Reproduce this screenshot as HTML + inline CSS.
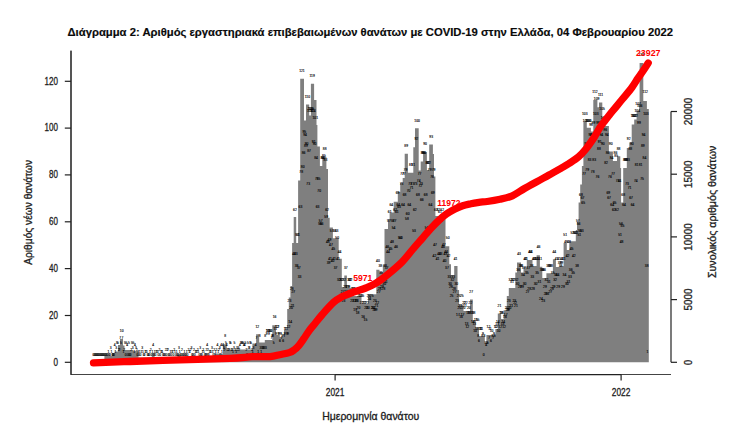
<!DOCTYPE html>
<html lang="el"><head><meta charset="utf-8"><title>Διάγραμμα 2</title>
<style>html,body{margin:0;padding:0;background:#fff}svg{display:block}text{font-family:"Liberation Sans",sans-serif}.t{font-size:3.3px;fill:#000;stroke:#000;stroke-width:.12px;text-anchor:middle}.a{font-size:10.2px;fill:#1c1c1c;stroke:#1c1c1c;stroke-width:.3px}.r{font-size:9.6px;font-weight:bold;fill:#f00;text-anchor:middle}</style></head><body>
<svg width="734" height="434" viewBox="0 0 734 434">
<rect width="734" height="434" fill="#fff"/>
<path d="M92.3 362.3V362.3H104.4V356H112V353H114.5V351.6H118V345H120V339H123V345.5H124.5V350H133V351H138.5V357.5H151.8V353H154.6V357.5H177.5V354.5H180.5V357.5H205.5V353H208.5V357H215V353.5H222.9V344.2H226.8V349.5H252.4V343.6H256.1V334.3H259.2V342.4H264.8V340H272.3V325.2H276V335H279.8V337H284V330H287.2V309H288.8V297.5H290.4V286H292.1V243.1H293.7V217H296.2V243H298.1V180.6H300.2V78.8H304V120.5H306V104.5H309.2V115.6H310.9V83.7H314.1V100H316.5V125H317.4V146.5H319.9V166H322.3V157H326.4V169H328V217.8H329.7V227.6H332.9V238.2H338.7V258.7H341.8V287H344.3V275.5H346.9V287.7H353V295.9H361.5V304H368V294.2H376.3V269.7H379.5V272H382.8V264.8H384.5V229H388V219H389.6V212.4H393.7V201.8H397.8V192H400.2V183H402.7V178.1H404.7V153.7H407.9V172.8H413.3V147.2H415V128.2H418.7V170.4H420.7V161.4H423.1V151.9H426.9V170H429.2V144.6H432.9V154H434V176.4H435.4V216H445.5V246.3H449.3V264.3H451V275H454.2V266H457.5V290H459.1V304.5H463.5V311H470V299.6H472.8V320H475.8V327.4H479V336H484.8V343H486.4V335H495.4V329H497.8V313.5H501.1V319H503.6V310.2H506.8V296H508.8V288H515.3V272.4H517V262.6H521V272.4H523.5V266.7H526.8V260.1H532.5V265.9H536.6V255.2H539.9V266.7H542.3V278H546.4V273.2H552.9V259.3H555.9V267H559.5V265.9H563.6V243H566.8V250H569.3V241.3H575.8V229.9H577V222H578.6V202.5H580.2V184.5H581.9V166H583.4V121.2H586.8V127.7H590.9V131.5H593.3V99.9H597.4V107.3H599V102.4H602.3V117H604.8V126H608.9V151.4H612.9V161H617V156.3H620.3V168H621.1V202.5H623.2V168H626.8V148H629.3V142.4H631.7V124.4H634.2V119.5H636.6V111.3H639.1V105H639.6V63H643.3V101H646.9V108.9H648.8V362.3Z" fill="#7f7f7f"/>
<g class="t">
<text x="93.5" y="355.7">0</text><text x="94.3" y="355.7">0</text><text x="95.1" y="355.7">0</text><text x="95.9" y="355.7">0</text><text x="96.6" y="355.7">0</text><text x="97.4" y="355.7">0</text><text x="98.2" y="355.7">0</text><text x="99" y="355.7">0</text><text x="99.8" y="355.7">0</text><text x="100.6" y="355.7">0</text><text x="101.3" y="355.7">0</text><text x="102.1" y="355.7">0</text><text x="102.9" y="355.7">0</text><text x="103.7" y="355.7">0</text><text x="104.5" y="355.7">0</text><text x="105.3" y="355.7">0</text><text x="106" y="355.7">0</text><text x="106.8" y="355.7">0</text><text x="107.6" y="355.7">0</text><text x="108.4" y="353.4">1</text><text x="109.2" y="355.7">0</text><text x="110" y="355.7">0</text><text x="110.7" y="348.7">3</text><text x="111.5" y="353.4">1</text><text x="112.3" y="355.7">0</text><text x="113.1" y="355.7">0</text><text x="113.9" y="355.7">0</text><text x="114.7" y="346.3">4</text><text x="115.4" y="353.4">1</text><text x="116.2" y="348.7">3</text><text x="117" y="344">5</text><text x="117.8" y="344">5</text><text x="118.6" y="351">2</text><text x="119.4" y="351">2</text><text x="120.1" y="339.3">7</text><text x="120.9" y="344">5</text><text x="121.7" y="332.3">10</text><text x="122.5" y="339.3">7</text><text x="123.3" y="353.4">1</text><text x="124.1" y="351">2</text><text x="124.8" y="344">5</text><text x="125.6" y="355.7">0</text><text x="126.4" y="344">5</text><text x="127.2" y="346.3">4</text><text x="128" y="355.7">0</text><text x="128.8" y="344">5</text><text x="129.5" y="355.7">0</text><text x="130.3" y="355.7">0</text><text x="131.1" y="351">2</text><text x="131.9" y="344">5</text><text x="132.7" y="348.7">3</text><text x="133.5" y="344">5</text><text x="134.2" y="353.4">1</text><text x="135" y="346.3">4</text><text x="135.8" y="348.7">3</text><text x="136.6" y="351">2</text><text x="137.4" y="355.7">0</text><text x="138.2" y="353.4">1</text><text x="138.9" y="355.7">0</text><text x="139.7" y="353.4">1</text><text x="140.5" y="355.7">0</text><text x="141.3" y="353.4">1</text><text x="142.1" y="348.7">3</text><text x="142.9" y="353.4">1</text><text x="143.7" y="355.7">0</text><text x="144.4" y="355.7">0</text><text x="145.2" y="353.4">1</text><text x="146" y="353.4">1</text><text x="146.8" y="353.4">1</text><text x="147.6" y="355.7">0</text><text x="148.4" y="355.7">0</text><text x="149.1" y="355.7">0</text><text x="149.9" y="353.4">1</text><text x="150.7" y="351">2</text><text x="151.5" y="355.7">0</text><text x="152.3" y="353.4">1</text><text x="153.1" y="346.3">4</text><text x="153.8" y="355.7">0</text><text x="154.6" y="353.4">1</text><text x="155.4" y="355.7">0</text><text x="156.2" y="353.4">1</text><text x="157" y="353.4">1</text><text x="157.8" y="353.4">1</text><text x="158.5" y="355.7">0</text><text x="159.3" y="351">2</text><text x="160.1" y="355.7">0</text><text x="160.9" y="353.4">1</text><text x="161.7" y="353.4">1</text><text x="162.5" y="353.4">1</text><text x="163.2" y="355.7">0</text><text x="164" y="355.7">0</text><text x="164.8" y="355.7">0</text><text x="165.6" y="351">2</text><text x="166.4" y="355.7">0</text><text x="167.2" y="351">2</text><text x="167.9" y="351">2</text><text x="168.7" y="355.7">0</text><text x="169.5" y="355.7">0</text><text x="170.3" y="353.4">1</text><text x="171.1" y="355.7">0</text><text x="171.9" y="353.4">1</text><text x="172.6" y="353.4">1</text><text x="173.4" y="355.7">0</text><text x="174.2" y="351">2</text><text x="175" y="353.4">1</text><text x="175.8" y="355.7">0</text><text x="176.6" y="353.4">1</text><text x="177.3" y="355.7">0</text><text x="178.1" y="355.7">0</text><text x="178.9" y="348.7">3</text><text x="179.7" y="353.4">1</text><text x="180.5" y="355.7">0</text><text x="181.3" y="355.7">0</text><text x="182" y="351">2</text><text x="182.8" y="355.7">0</text><text x="183.6" y="355.7">0</text><text x="184.4" y="353.4">1</text><text x="185.2" y="355.7">0</text><text x="186" y="355.7">0</text><text x="186.7" y="353.4">1</text><text x="187.5" y="355.7">0</text><text x="188.3" y="351">2</text><text x="189.1" y="353.4">1</text><text x="189.9" y="353.4">1</text><text x="190.7" y="351">2</text><text x="191.4" y="348.7">3</text><text x="192.2" y="355.7">0</text><text x="193" y="355.7">0</text><text x="193.8" y="351">2</text><text x="194.6" y="355.7">0</text><text x="195.4" y="353.4">1</text><text x="196.2" y="353.4">1</text><text x="196.9" y="353.4">1</text><text x="197.7" y="351">2</text><text x="198.5" y="353.4">1</text><text x="199.3" y="355.7">0</text><text x="200.1" y="348.7">3</text><text x="200.9" y="355.7">0</text><text x="201.6" y="355.7">0</text><text x="202.4" y="353.4">1</text><text x="203.2" y="351">2</text><text x="204" y="353.4">1</text><text x="204.8" y="355.7">0</text><text x="205.6" y="355.7">0</text><text x="206.3" y="351">2</text><text x="207.1" y="346.3">4</text><text x="207.9" y="351">2</text><text x="208.7" y="355.7">0</text><text x="209.5" y="353.4">1</text><text x="210.3" y="353.4">1</text><text x="211" y="353.4">1</text><text x="211.8" y="348.7">3</text><text x="212.6" y="353.4">1</text><text x="213.4" y="355.7">0</text><text x="214.2" y="351">2</text><text x="215" y="355.7">0</text><text x="215.7" y="353.4">1</text><text x="216.5" y="351">2</text><text x="217.3" y="346.3">4</text><text x="218.1" y="353.4">1</text><text x="218.9" y="351">2</text><text x="219.7" y="348.7">3</text><text x="220.4" y="355.7">0</text><text x="221.2" y="346.3">4</text><text x="222" y="353.4">1</text><text x="222.8" y="346.3">4</text><text x="223.6" y="348.7">3</text><text x="224.4" y="351">2</text><text x="225.1" y="337">8</text><text x="225.9" y="344">5</text><text x="226.7" y="346.3">4</text><text x="227.5" y="351">2</text><text x="228.3" y="351">2</text><text x="229.1" y="351">2</text><text x="229.8" y="344">5</text><text x="230.6" y="344">5</text><text x="231.4" y="351">2</text><text x="232.2" y="351">2</text><text x="233" y="353.4">1</text><text x="233.8" y="348.7">3</text><text x="234.5" y="344">5</text><text x="235.3" y="351">2</text><text x="236.1" y="353.4">1</text><text x="236.9" y="348.7">3</text><text x="237.7" y="351">2</text><text x="238.5" y="348.7">3</text><text x="239.2" y="351">2</text><text x="240" y="346.3">4</text><text x="240.8" y="344">5</text><text x="241.6" y="344">5</text><text x="242.4" y="344">5</text><text x="243.2" y="344">5</text><text x="244" y="346.3">4</text><text x="244.7" y="346.3">4</text><text x="245.5" y="344">5</text><text x="246.3" y="351">2</text><text x="247.1" y="355.7">0</text><text x="247.9" y="344">5</text><text x="248.7" y="348.7">3</text><text x="249.4" y="348.7">3</text><text x="250.2" y="344">5</text><text x="251" y="344">5</text><text x="251.8" y="351">2</text><text x="252.6" y="353.4">1</text><text x="253.4" y="348.7">3</text><text x="254.1" y="355.7">0</text><text x="254.9" y="355.7">0</text><text x="255.7" y="346.3">4</text><text x="256.5" y="339.3">7</text><text x="257.3" y="327.6">12</text><text x="258.1" y="353.4">1</text><text x="258.8" y="355.7">0</text><text x="259.6" y="337">8</text><text x="260.4" y="348.7">3</text><text x="261.2" y="353.4">1</text><text x="262" y="348.7">3</text><text x="262.8" y="348.7">3</text><text x="263.5" y="348.7">3</text><text x="264.3" y="348.7">3</text><text x="265.1" y="337">8</text><text x="265.9" y="348.7">3</text><text x="266.7" y="334.6">9</text><text x="267.5" y="332.3">10</text><text x="268.2" y="332.3">10</text><text x="269" y="334.6">9</text><text x="269.8" y="332.3">10</text><text x="270.6" y="332.3">10</text><text x="271.4" y="339.3">7</text><text x="272.2" y="337">8</text><text x="272.9" y="337">8</text><text x="273.7" y="344">5</text><text x="274.5" y="318.2">16</text><text x="275.3" y="329.9">11</text><text x="276.1" y="334.6">9</text><text x="276.9" y="327.6">12</text><text x="277.6" y="327.6">12</text><text x="278.4" y="334.6">9</text><text x="279.2" y="334.6">9</text><text x="280" y="341.6">6</text><text x="280.8" y="334.6">9</text><text x="281.6" y="339.3">7</text><text x="282.3" y="337">8</text><text x="283.1" y="341.6">6</text><text x="283.9" y="337">8</text><text x="284.7" y="334.6">9</text><text x="285.5" y="329.9">11</text><text x="286.3" y="329.9">11</text><text x="287" y="334.6">9</text><text x="287.8" y="334.6">9</text><text x="288.6" y="327.6">12</text><text x="289.4" y="301.8">23</text><text x="290.2" y="322.9">14</text><text x="291" y="308.9">20</text><text x="291.8" y="290.1">28</text><text x="292.5" y="306.5">21</text><text x="293.3" y="292.5">27</text><text x="294.1" y="255">43</text><text x="294.9" y="210.5">62</text><text x="295.7" y="255">43</text><text x="296.5" y="266.7">38</text><text x="297.2" y="236.3">51</text><text x="298" y="236.3">51</text><text x="298.8" y="269">37</text><text x="299.6" y="278.4">33</text><text x="300.4" y="208.2">63</text><text x="301.2" y="173">78</text><text x="301.9" y="72.3">121</text><text x="302.7" y="168.3">80</text><text x="303.5" y="154.3">86</text><text x="304.3" y="133.2">95</text><text x="305.1" y="135.6">94</text><text x="305.9" y="147.3">89</text><text x="306.6" y="144.9">90</text><text x="307.4" y="98.1">110</text><text x="308.2" y="184.7">73</text><text x="309" y="151.9">87</text><text x="309.8" y="112.1">104</text><text x="310.6" y="109.8">105</text><text x="311.3" y="109.8">105</text><text x="312.1" y="77">119</text><text x="312.9" y="112.1">104</text><text x="313.7" y="142.6">91</text><text x="314.5" y="144.9">90</text><text x="315.3" y="119.2">101</text><text x="316" y="159">84</text><text x="316.8" y="180.1">75</text><text x="317.6" y="208.2">63</text><text x="318.4" y="180.1">75</text><text x="319.2" y="191.8">70</text><text x="320" y="224.5">56</text><text x="320.7" y="222.2">57</text><text x="321.5" y="224.5">56</text><text x="322.3" y="159">84</text><text x="323.1" y="159">84</text><text x="323.9" y="156.6">85</text><text x="324.7" y="149.6">88</text><text x="325.4" y="161.3">83</text><text x="326.2" y="217.5">59</text><text x="327" y="210.5">62</text><text x="327.8" y="243.3">48</text><text x="328.6" y="264.4">39</text><text x="329.4" y="240.9">49</text><text x="330.1" y="259.7">41</text><text x="330.9" y="245.6">47</text><text x="331.7" y="231.6">53</text><text x="332.5" y="262">40</text><text x="333.3" y="250.3">45</text><text x="334.1" y="259.7">41</text><text x="334.8" y="231.6">53</text><text x="335.6" y="269">37</text><text x="336.4" y="231.6">53</text><text x="337.2" y="238.6">50</text><text x="338" y="259.7">41</text><text x="338.8" y="280.8">32</text><text x="339.6" y="252.7">44</text><text x="340.3" y="299.5">24</text><text x="341.1" y="280.8">32</text><text x="341.9" y="280.8">32</text><text x="342.7" y="292.5">27</text><text x="343.5" y="301.8">23</text><text x="344.3" y="280.8">32</text><text x="345" y="287.8">29</text><text x="345.8" y="269">37</text><text x="346.6" y="292.5">27</text><text x="347.4" y="287.8">29</text><text x="348.2" y="287.8">29</text><text x="349" y="280.8">32</text><text x="349.7" y="280.8">32</text><text x="350.5" y="280.8">32</text><text x="351.3" y="292.5">27</text><text x="352.1" y="301.8">23</text><text x="352.9" y="290.1">28</text><text x="353.7" y="290.1">28</text><text x="354.4" y="301.8">23</text><text x="355.2" y="311.2">19</text><text x="356" y="301.8">23</text><text x="356.8" y="301.8">23</text><text x="357.6" y="313.5">18</text><text x="358.4" y="308.9">20</text><text x="359.1" y="297.1">25</text><text x="359.9" y="290.1">28</text><text x="360.7" y="297.1">25</text><text x="361.5" y="304.2">22</text><text x="362.3" y="297.1">25</text><text x="363.1" y="318.2">16</text><text x="363.8" y="304.2">22</text><text x="364.6" y="304.2">22</text><text x="365.4" y="320.6">15</text><text x="366.2" y="308.9">20</text><text x="367" y="304.2">22</text><text x="367.8" y="308.9">20</text><text x="368.5" y="297.1">25</text><text x="369.3" y="299.5">24</text><text x="370.1" y="287.8">29</text><text x="370.9" y="287.8">29</text><text x="371.7" y="297.1">25</text><text x="372.5" y="308.9">20</text><text x="373.2" y="308.9">20</text><text x="374" y="311.2">19</text><text x="374.8" y="301.8">23</text><text x="375.6" y="311.2">19</text><text x="376.4" y="306.5">21</text><text x="377.2" y="304.2">22</text><text x="377.9" y="262">40</text><text x="378.7" y="292.5">27</text><text x="379.5" y="290.1">28</text><text x="380.3" y="266.7">38</text><text x="381.1" y="273.7">35</text><text x="381.9" y="287.8">29</text><text x="382.6" y="280.8">32</text><text x="383.4" y="290.1">28</text><text x="384.2" y="285.4">30</text><text x="385" y="266.7">38</text><text x="385.8" y="283.1">31</text><text x="386.6" y="269">37</text><text x="387.3" y="248">46</text><text x="388.1" y="252.7">44</text><text x="388.9" y="222.2">57</text><text x="389.7" y="212.8">61</text><text x="390.5" y="250.3">45</text><text x="391.3" y="205.8">64</text><text x="392.1" y="243.3">48</text><text x="392.8" y="222.2">57</text><text x="393.6" y="229.2">54</text><text x="394.4" y="222.2">57</text><text x="395.2" y="210.5">62</text><text x="396" y="248">46</text><text x="396.8" y="212.8">61</text><text x="397.5" y="194.1">69</text><text x="398.3" y="205.8">64</text><text x="399.1" y="208.2">63</text><text x="399.9" y="238.6">50</text><text x="400.7" y="238.6">50</text><text x="401.5" y="184.7">73</text><text x="402.2" y="175.4">77</text><text x="403" y="205.8">64</text><text x="403.8" y="175.4">77</text><text x="404.6" y="196.4">68</text><text x="405.4" y="170.7">79</text><text x="406.2" y="147.3">89</text><text x="406.9" y="219.9">58</text><text x="407.7" y="215.2">60</text><text x="408.5" y="191.8">70</text><text x="409.3" y="205.8">64</text><text x="410.1" y="184.7">73</text><text x="410.9" y="166">81</text><text x="411.6" y="189.4">71</text><text x="412.4" y="184.7">73</text><text x="413.2" y="166">81</text><text x="414" y="231.6">53</text><text x="414.8" y="210.5">62</text><text x="415.6" y="184.7">73</text><text x="416.3" y="140.2">92</text><text x="417.1" y="121.5">100</text><text x="417.9" y="196.4">68</text><text x="418.7" y="182.4">74</text><text x="419.5" y="175.4">77</text><text x="420.3" y="187.1">72</text><text x="421" y="184.7">73</text><text x="421.8" y="201.1">66</text><text x="422.6" y="154.3">86</text><text x="423.4" y="154.3">86</text><text x="424.2" y="154.3">86</text><text x="425" y="144.9">90</text><text x="425.7" y="196.4">68</text><text x="426.5" y="229.2">54</text><text x="427.3" y="163.7">82</text><text x="428.1" y="163.7">82</text><text x="428.9" y="163.7">82</text><text x="429.7" y="170.7">79</text><text x="430.4" y="205.8">64</text><text x="431.2" y="137.9">93</text><text x="432" y="177.7">76</text><text x="432.8" y="194.1">69</text><text x="433.6" y="170.7">79</text><text x="434.4" y="257.3">42</text><text x="435.1" y="245.6">47</text><text x="435.9" y="210.5">62</text><text x="436.7" y="224.5">56</text><text x="437.5" y="259.7">41</text><text x="438.3" y="210.5">62</text><text x="439.1" y="255">43</text><text x="439.9" y="212.8">61</text><text x="440.6" y="255">43</text><text x="441.4" y="222.2">57</text><text x="442.2" y="210.5">62</text><text x="443" y="248">46</text><text x="443.8" y="245.6">47</text><text x="444.6" y="262">40</text><text x="445.3" y="255">43</text><text x="446.1" y="252.7">44</text><text x="446.9" y="269">37</text><text x="447.7" y="238.6">50</text><text x="448.5" y="257.3">42</text><text x="449.3" y="278.4">33</text><text x="450" y="285.4">30</text><text x="450.8" y="287.8">29</text><text x="451.6" y="297.1">25</text><text x="452.4" y="280.8">32</text><text x="453.2" y="278.4">33</text><text x="454" y="290.1">28</text><text x="454.7" y="292.5">27</text><text x="455.5" y="259.7">41</text><text x="456.3" y="285.4">30</text><text x="457.1" y="301.8">23</text><text x="457.9" y="315.9">17</text><text x="458.7" y="297.1">25</text><text x="459.4" y="308.9">20</text><text x="460.2" y="306.5">21</text><text x="461" y="318.2">16</text><text x="461.8" y="297.1">25</text><text x="462.6" y="315.9">17</text><text x="463.4" y="308.9">20</text><text x="464.1" y="304.2">22</text><text x="464.9" y="306.5">21</text><text x="465.7" y="304.2">22</text><text x="466.5" y="325.3">13</text><text x="467.3" y="327.6">12</text><text x="468.1" y="313.5">18</text><text x="468.8" y="308.9">20</text><text x="469.6" y="313.5">18</text><text x="470.4" y="304.2">22</text><text x="471.2" y="292.5">27</text><text x="472" y="313.5">18</text><text x="472.8" y="322.9">14</text><text x="473.5" y="313.5">18</text><text x="474.3" y="325.3">13</text><text x="475.1" y="332.3">10</text><text x="475.9" y="320.6">15</text><text x="476.7" y="329.9">11</text><text x="477.5" y="320.6">15</text><text x="478.2" y="337">8</text><text x="479" y="341.6">6</text><text x="479.8" y="329.9">11</text><text x="480.6" y="329.9">11</text><text x="481.4" y="329.9">11</text><text x="482.2" y="337">8</text><text x="482.9" y="334.6">9</text><text x="483.7" y="355.7">0</text><text x="484.5" y="337">8</text><text x="485.3" y="344">5</text><text x="486.1" y="346.3">4</text><text x="486.9" y="344">5</text><text x="487.7" y="344">5</text><text x="488.4" y="327.6">12</text><text x="489.2" y="339.3">7</text><text x="490" y="329.9">11</text><text x="490.8" y="341.6">6</text><text x="491.6" y="332.3">10</text><text x="492.4" y="337">8</text><text x="493.1" y="339.3">7</text><text x="493.9" y="334.6">9</text><text x="494.7" y="337">8</text><text x="495.5" y="327.6">12</text><text x="496.3" y="327.6">12</text><text x="497.1" y="325.3">13</text><text x="497.8" y="322.9">14</text><text x="498.6" y="332.3">10</text><text x="499.4" y="306.5">21</text><text x="500.2" y="327.6">12</text><text x="501" y="313.5">18</text><text x="501.8" y="313.5">18</text><text x="502.5" y="325.3">13</text><text x="503.3" y="322.9">14</text><text x="504.1" y="327.6">12</text><text x="504.9" y="318.2">16</text><text x="505.7" y="315.9">17</text><text x="506.5" y="308.9">20</text><text x="507.2" y="311.2">19</text><text x="508" y="311.2">19</text><text x="508.8" y="301.8">23</text><text x="509.6" y="308.9">20</text><text x="510.4" y="280.8">32</text><text x="511.2" y="306.5">21</text><text x="511.9" y="283.1">31</text><text x="512.7" y="280.8">32</text><text x="513.5" y="280.8">32</text><text x="514.3" y="301.8">23</text><text x="515.1" y="304.2">22</text><text x="515.9" y="306.5">21</text><text x="516.6" y="280.8">32</text><text x="517.4" y="285.4">30</text><text x="518.2" y="271.4">36</text><text x="519" y="255">43</text><text x="519.8" y="287.8">29</text><text x="520.6" y="266.7">38</text><text x="521.3" y="266.7">38</text><text x="522.1" y="287.8">29</text><text x="522.9" y="276.1">34</text><text x="523.7" y="269">37</text><text x="524.5" y="285.4">30</text><text x="525.3" y="259.7">41</text><text x="526" y="259.7">41</text><text x="526.8" y="273.7">35</text><text x="527.6" y="292.5">27</text><text x="528.4" y="269">37</text><text x="529.2" y="290.1">28</text><text x="530" y="252.7">44</text><text x="530.7" y="252.7">44</text><text x="531.5" y="266.7">38</text><text x="532.3" y="278.4">33</text><text x="533.1" y="290.1">28</text><text x="533.9" y="259.7">41</text><text x="534.7" y="259.7">41</text><text x="535.5" y="285.4">30</text><text x="536.2" y="259.7">41</text><text x="537" y="273.7">35</text><text x="537.8" y="259.7">41</text><text x="538.6" y="248">46</text><text x="539.4" y="283.1">31</text><text x="540.2" y="259.7">41</text><text x="540.9" y="299.5">24</text><text x="541.7" y="271.4">36</text><text x="542.5" y="271.4">36</text><text x="543.3" y="301.8">23</text><text x="544.1" y="271.4">36</text><text x="544.9" y="287.8">29</text><text x="545.6" y="294.8">26</text><text x="546.4" y="280.8">32</text><text x="547.2" y="294.8">26</text><text x="548" y="266.7">38</text><text x="548.8" y="283.1">31</text><text x="549.6" y="266.7">38</text><text x="550.3" y="292.5">27</text><text x="551.1" y="266.7">38</text><text x="551.9" y="290.1">28</text><text x="552.7" y="273.7">35</text><text x="553.5" y="287.8">29</text><text x="554.3" y="252.7">44</text><text x="555" y="280.8">32</text><text x="555.8" y="276.1">34</text><text x="556.6" y="259.7">41</text><text x="557.4" y="276.1">34</text><text x="558.2" y="287.8">29</text><text x="559" y="259.7">41</text><text x="559.7" y="264.4">39</text><text x="560.5" y="266.7">38</text><text x="561.3" y="264.4">39</text><text x="562.1" y="259.7">41</text><text x="562.9" y="287.8">29</text><text x="563.7" y="259.7">41</text><text x="564.4" y="276.1">34</text><text x="565.2" y="236.3">51</text><text x="566" y="243.3">48</text><text x="566.8" y="285.4">30</text><text x="567.6" y="257.3">42</text><text x="568.4" y="283.1">31</text><text x="569.1" y="243.3">48</text><text x="569.9" y="278.4">33</text><text x="570.7" y="271.4">36</text><text x="571.5" y="250.3">45</text><text x="572.3" y="233.9">52</text><text x="573.1" y="273.7">35</text><text x="573.8" y="257.3">42</text><text x="574.6" y="233.9">52</text><text x="575.4" y="233.9">52</text><text x="576.2" y="233.9">52</text><text x="577" y="266.7">38</text><text x="577.8" y="222.2">57</text><text x="578.5" y="224.5">56</text><text x="579.3" y="236.3">51</text><text x="580.1" y="231.6">53</text><text x="580.9" y="196.4">68</text><text x="581.7" y="231.6">53</text><text x="582.5" y="198.8">67</text><text x="583.2" y="203.5">65</text><text x="584" y="175.4">77</text><text x="584.8" y="114.5">103</text><text x="585.6" y="121.5">100</text><text x="586.4" y="144.9">90</text><text x="587.2" y="170.7">79</text><text x="588" y="121.5">100</text><text x="588.7" y="121.5">100</text><text x="589.5" y="161.3">83</text><text x="590.3" y="135.6">94</text><text x="591.1" y="126.2">98</text><text x="591.9" y="135.6">94</text><text x="592.7" y="173">78</text><text x="593.4" y="123.8">99</text><text x="594.2" y="161.3">83</text><text x="595" y="93.4">112</text><text x="595.8" y="114.5">103</text><text x="596.6" y="100.4">109</text><text x="597.4" y="177.7">76</text><text x="598.1" y="123.8">99</text><text x="598.9" y="149.6">88</text><text x="599.7" y="142.6">91</text><text x="600.5" y="95.7">111</text><text x="601.3" y="135.6">94</text><text x="602.1" y="109.8">105</text><text x="602.8" y="144.9">90</text><text x="603.6" y="119.2">101</text><text x="604.4" y="123.8">99</text><text x="605.2" y="130.9">96</text><text x="606" y="163.7">82</text><text x="606.8" y="135.6">94</text><text x="607.5" y="154.3">86</text><text x="608.3" y="194.1">69</text><text x="609.1" y="198.8">67</text><text x="609.9" y="177.7">76</text><text x="610.7" y="144.9">90</text><text x="611.5" y="159">84</text><text x="612.2" y="205.8">64</text><text x="613" y="175.4">77</text><text x="613.8" y="210.5">62</text><text x="614.6" y="203.5">65</text><text x="615.4" y="154.3">86</text><text x="616.2" y="156.6">85</text><text x="616.9" y="210.5">62</text><text x="617.7" y="182.4">74</text><text x="618.5" y="149.6">88</text><text x="619.3" y="182.4">74</text><text x="620.1" y="236.3">51</text><text x="620.9" y="224.5">56</text><text x="621.6" y="243.3">48</text><text x="622.4" y="226.9">55</text><text x="623.2" y="196.4">68</text><text x="624" y="205.8">64</text><text x="624.8" y="161.3">83</text><text x="625.6" y="161.3">83</text><text x="626.3" y="161.3">83</text><text x="627.1" y="184.7">73</text><text x="627.9" y="161.3">83</text><text x="628.7" y="140.2">92</text><text x="629.5" y="189.4">71</text><text x="630.3" y="149.6">88</text><text x="631" y="198.8">67</text><text x="631.8" y="144.9">90</text><text x="632.6" y="205.8">64</text><text x="633.4" y="116.8">102</text><text x="634.2" y="116.8">102</text><text x="635" y="116.8">102</text><text x="635.8" y="182.4">74</text><text x="636.5" y="166">81</text><text x="637.3" y="112.1">104</text><text x="638.1" y="105.1">107</text><text x="638.9" y="123.8">99</text><text x="639.7" y="107.4">106</text><text x="640.5" y="166">81</text><text x="641.2" y="55.9">128</text><text x="642" y="180.1">75</text><text x="642.8" y="147.3">89</text><text x="643.6" y="135.6">94</text><text x="644.4" y="159">84</text><text x="645.2" y="93.4">112</text><text x="645.9" y="114.5">103</text><text x="646.7" y="266.7">38</text><text x="647.5" y="353.4">1</text>
</g>
<path d="M93.5 362.8C99.6 362.6 115.6 362 130 361.5C144.4 361 163.3 360.3 180 359.8C196.7 359.3 217.9 358.8 230 358.3C242.1 357.8 245.7 357 252.4 356.7C259.1 356.4 265.4 356.9 270 356.6C274.6 356.3 276.5 355.4 279.7 354.7C282.9 354 286.9 353.4 289.3 352.6C291.7 351.8 292.6 351.1 294.2 349.9C295.8 348.7 297.4 347.2 299 345.3C300.6 343.4 302.2 341 303.8 338.7C305.4 336.4 307.1 333.5 308.7 331.3C310.3 329.1 311.1 328.2 313.4 325.4C315.7 322.6 318.9 318.4 322.3 314.5C325.7 310.6 330.4 305.2 333.6 302.3C336.8 299.4 338 298.8 341.3 297.1C344.6 295.4 349.5 293.5 353.6 292C357.7 290.5 362.1 289.5 365.8 288C369.5 286.5 372.4 285.4 376 283.2C379.6 281 383.2 278.2 387.6 274.6C392 271 398 266 402.2 261.8C406.4 257.6 409.1 253.6 412.6 249.5C416.1 245.4 420 241 423.2 237.3C426.4 233.6 429.2 230.3 431.8 227.5C434.4 224.7 436.1 222.9 438.5 220.7C440.9 218.5 443.7 216 446.4 214.1C449 212.2 451.8 210.6 454.5 209.2C457.2 207.8 460 206.6 462.7 205.7C465.4 204.8 468.2 204.3 470.9 203.7C473.6 203.1 476.3 202.7 479 202.3C481.7 201.9 483.7 202 487.2 201.5C490.7 201 495.8 200.2 500 199.3C504.2 198.4 508.2 197.6 512.3 195.8C516.4 194 520.4 190.8 524.5 188.5C528.6 186.2 532.7 183.9 536.8 181.7C540.9 179.4 544.9 177.3 549 175C553.1 172.7 558 170 561.3 168.1C564.6 166.2 566.1 165.4 569 163.5C571.9 161.6 575.8 159.2 578.6 156.7C581.5 154.2 583.6 151.8 586.1 148.7C588.6 145.6 591.2 141.8 593.5 138.4C595.8 135 597.9 130.7 599.6 128C601.3 125.3 601.5 125.1 603.7 122.3C605.9 119.5 609.5 114.8 612.6 111C615.7 107.2 619.1 103.2 622.3 99.3C625.5 95.4 629.3 91 631.9 87.5C634.5 84 636 81.2 637.7 78.6C639.4 76 640.5 74.6 642.3 72C644 69.4 647.2 64.6 648.2 63.1" fill="none" stroke="#f00" stroke-width="7.3" stroke-linecap="round" stroke-linejoin="round"/>
<text class="r" x="362.8" y="280.8" textLength="19.2" lengthAdjust="spacingAndGlyphs">5971</text>
<text class="r" x="448.8" y="205.5" textLength="23.2" lengthAdjust="spacingAndGlyphs">11972</text>
<text class="r" x="648.2" y="56.2" textLength="24.6" lengthAdjust="spacingAndGlyphs">23927</text>
<g stroke="#444" stroke-width="1" fill="none"><path d="M71 51V374.5H671"/></g>
<g stroke="#222" stroke-width="1.2" fill="none"><path d="M71 50.6V375"/><path d="M64.8 362.3H71"/><path d="M64.8 315.5H71"/><path d="M64.8 268.6H71"/><path d="M64.8 221.8H71"/><path d="M64.8 174.9H71"/><path d="M64.8 128.1H71"/><path d="M64.8 81.3H71"/><path d="M335.1 374.6H621.1"/><path d="M335.1 374.6V380.6"/><path d="M621.1 374.6V380.6"/><path d="M671 111.5V362.3"/><path d="M671 362.3H677"/><path d="M671 299.6H677"/><path d="M671 236.9H677"/><path d="M671 174.2H677"/><path d="M671 111.5H677"/></g>
<g class="a">
<text x="58" y="365.6" text-anchor="end" textLength="4.5" lengthAdjust="spacingAndGlyphs">0</text><text x="58" y="318.8" text-anchor="end" textLength="8.9" lengthAdjust="spacingAndGlyphs">20</text><text x="58" y="271.9" text-anchor="end" textLength="8.9" lengthAdjust="spacingAndGlyphs">40</text><text x="58" y="225.1" text-anchor="end" textLength="8.9" lengthAdjust="spacingAndGlyphs">60</text><text x="58" y="178.2" text-anchor="end" textLength="8.9" lengthAdjust="spacingAndGlyphs">80</text><text x="58" y="131.4" text-anchor="end" textLength="13.4" lengthAdjust="spacingAndGlyphs">100</text><text x="58" y="84.6" text-anchor="end" textLength="13.4" lengthAdjust="spacingAndGlyphs">120</text>
<text x="335.1" y="396" text-anchor="middle" textLength="18.6" lengthAdjust="spacingAndGlyphs">2021</text><text x="621.1" y="396" text-anchor="middle" textLength="18.6" lengthAdjust="spacingAndGlyphs">2022</text>
<text transform="translate(691.6 362.3) rotate(-90)" text-anchor="middle" textLength="5.2" lengthAdjust="spacingAndGlyphs">0</text><text transform="translate(691.6 299.6) rotate(-90)" text-anchor="middle" textLength="22" lengthAdjust="spacingAndGlyphs">5000</text><text transform="translate(691.6 236.9) rotate(-90)" text-anchor="middle" textLength="27.5" lengthAdjust="spacingAndGlyphs">10000</text><text transform="translate(691.6 174.2) rotate(-90)" text-anchor="middle" textLength="27.5" lengthAdjust="spacingAndGlyphs">15000</text><text transform="translate(691.6 111.5) rotate(-90)" text-anchor="middle" textLength="27.5" lengthAdjust="spacingAndGlyphs">20000</text>
<text x="370.7" y="419.6" text-anchor="middle" textLength="97" lengthAdjust="spacingAndGlyphs">Ημερομηνία θανάτου</text>
<text transform="translate(31.8 212.3) rotate(-90)" text-anchor="middle" textLength="105" lengthAdjust="spacingAndGlyphs">Αριθμός νέων θανάτων</text>
<text transform="translate(715.8 211.9) rotate(-90)" text-anchor="middle" textLength="132.4" lengthAdjust="spacingAndGlyphs">Συνολικός αριθμός θανάτων</text>
</g>
<text x="67.5" y="35.9" font-size="10.3" font-weight="bold" fill="#0a0a0a" stroke="#0a0a0a" stroke-width=".15" textLength="605.5" lengthAdjust="spacingAndGlyphs">Διάγραμμα 2: Αριθμός εργαστηριακά επιβεβαιωμένων θανάτων με COVID-19 στην Ελλάδα, 04 Φεβρουαρίου 2022</text>
</svg>
</body></html>
